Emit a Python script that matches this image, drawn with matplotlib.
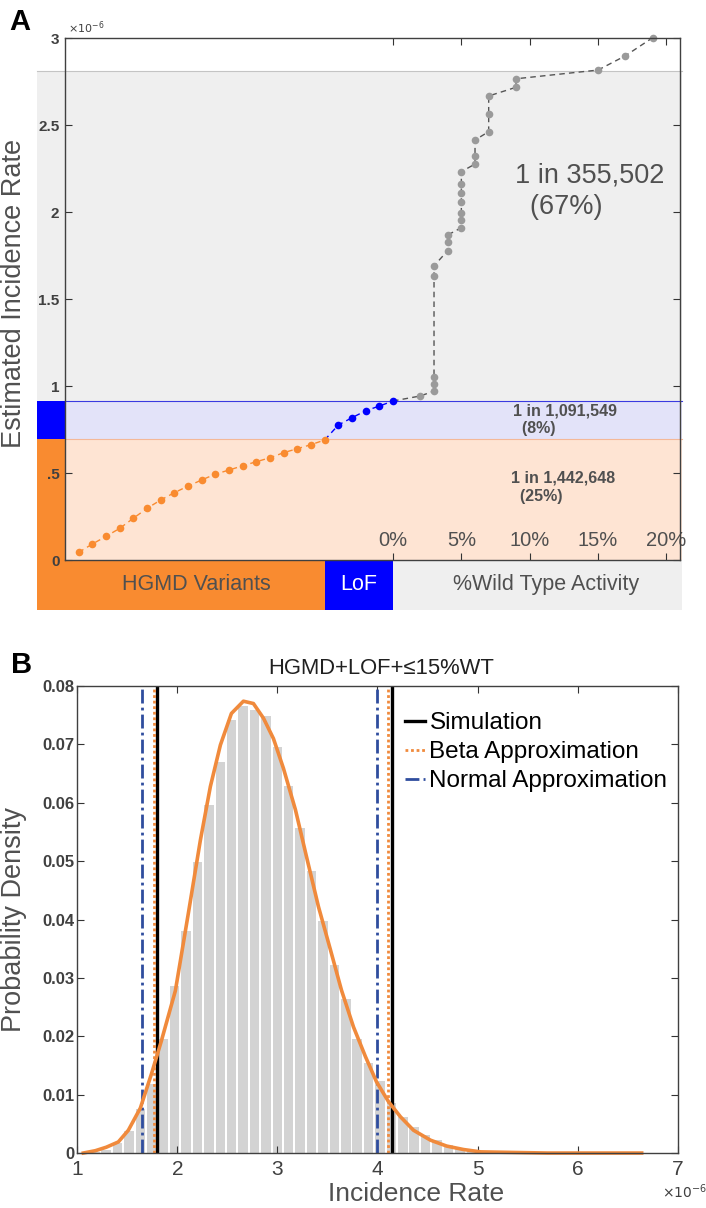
import numpy as np
import matplotlib.pyplot as plt
from matplotlib.patches import Rectangle
from matplotlib.lines import Line2D

plt.rcParams['font.family'] = ['Liberation Sans', 'DejaVu Sans']

# ---------------- Panel A data (x = % wild type activity, y = x1e-6) ----------------
hgmd_x = [-23, -22, -21, -20, -19, -18, -17, -16, -15, -14, -13, -12, -11, -10, -9, -8, -7, -6, -5]
hgmd_y = [0.044, 0.092, 0.136, 0.182, 0.240, 0.297, 0.345, 0.387, 0.425, 0.460,
          0.494, 0.517, 0.542, 0.565, 0.588, 0.617, 0.640, 0.663, 0.690]
lof_x = [-4, -3, -2, -1, 0]
lof_y = [0.776, 0.818, 0.858, 0.885, 0.914]
wt_x = [2, 3, 3, 3, 3, 3, 4, 4, 4, 5, 5, 5, 5, 5, 5, 5, 6, 6, 6, 7, 7, 7, 9, 9, 15, 17, 19]
wt_y = [0.943, 0.971, 1.011, 1.054, 1.634, 1.691, 1.778, 1.826, 1.868, 1.910, 1.952,
        1.996, 2.059, 2.111, 2.163, 2.232, 2.276, 2.322, 2.414, 2.462, 2.561, 2.667,
        2.717, 2.766, 2.816, 2.898, 3.002]
band_tops = [0.693, 0.916, 2.813]
band_text = ['1 in 1,442,648\n  (25%)', '1 in 1,091,549\n  (8%)', '1 in 355,502\n  (67%)']
pct_ticks = [0, 5, 10, 15, 20]
pct_labels = ['0%', '5%', '10%', '15%', '20%']
a_yticks = [0, 0.5, 1, 1.5, 2, 2.5, 3]
a_ylabels = ['0', '.5', '1', '1.5', '2', '2.5', '3']

# ---------------- Panel B data (x1e-6) ----------------
bin_centers = [1.175, 1.289, 1.403, 1.517, 1.631, 1.745, 1.859, 1.973, 2.087, 2.201,
               2.315, 2.429, 2.543, 2.657, 2.771, 2.885, 2.999, 3.113, 3.227, 3.341,
               3.455, 3.569, 3.683, 3.797, 3.911, 4.025, 4.139, 4.253, 4.367, 4.481,
               4.595, 4.709, 4.823, 4.937, 5.051, 5.165, 5.279, 5.393]
bin_heights = [0.0002, 0.0006, 0.0017, 0.0038, 0.0075, 0.0119, 0.0196, 0.0286, 0.0381, 0.0498,
               0.0596, 0.0670, 0.0742, 0.0765, 0.0759, 0.0749, 0.0696, 0.0629, 0.0556, 0.0483,
               0.0397, 0.0322, 0.0264, 0.0196, 0.0154, 0.0123, 0.0086, 0.0062, 0.0045, 0.0031,
               0.0023, 0.0014, 0.0008, 0.0005, 0.0003, 0.0002, 0.0001, 0.0001]
beta_x = [1.06, 1.18, 1.29, 1.41, 1.51, 1.63, 1.74, 1.84, 1.98, 2.11, 2.23, 2.33, 2.43,
          2.54, 2.66, 2.76, 2.86, 2.96, 3.06, 3.18, 3.29, 3.41, 3.53, 3.64, 3.76, 3.88,
          3.99, 4.11, 4.23, 4.36, 4.53, 4.69, 4.86, 5.03, 5.36, 5.70, 6.00, 6.64]
beta_y = [0.0, 0.0004, 0.0010, 0.0019, 0.0039, 0.0077, 0.0135, 0.0192, 0.0278, 0.0411,
          0.0536, 0.0628, 0.0699, 0.0753, 0.0774, 0.0770, 0.0745, 0.0710, 0.0659, 0.0588,
          0.0508, 0.0422, 0.0348, 0.0279, 0.0216, 0.0165, 0.0122, 0.0088, 0.0062, 0.0039,
          0.0022, 0.0012, 0.0006, 0.0002, 0.0001, 0.0, 0.0, 0.0]
sim_ci = [1.795, 4.142]
beta_ci = [1.768, 4.108]
normal_ci = [1.644, 3.993]
b_yticks = [0, 0.01, 0.02, 0.03, 0.04, 0.05, 0.06, 0.07, 0.08]
b_ylabels = ['0', '0.01', '0.02', '0.03', '0.04', '0.05', '0.06', '0.07', '0.08']
b_xticks = [1, 2, 3, 4, 5, 6, 7]

# colores
naranja = '#F98B30'
naranja_claro = '#FEE4D3'
azul = '#0000FF'
azul_claro = '#E3E3F9'
gris_claro = '#EFEFEF'
gris_txt = '#505050'

fig = plt.figure(figsize=(7.06, 12.08), dpi=100)

# ================= Panel A =================
axA = fig.add_axes([0.0921, 0.5364, 0.8711, 0.4321])
x0, x1 = -24, 21
xl, xr = -26.05, 21.15
strip_h = 0.287

# bandas
axA.add_patch(Rectangle((x0, 0), xr - x0, band_tops[0], color=naranja_claro, lw=0, clip_on=False, zorder=0))
axA.add_patch(Rectangle((x0, band_tops[0]), xr - x0, band_tops[1] - band_tops[0], color=azul_claro, lw=0, clip_on=False, zorder=0))
axA.add_patch(Rectangle((xl, band_tops[1]), xr - xl, band_tops[2] - band_tops[1], color=gris_claro, lw=0, clip_on=False, zorder=0))
# franja izquierda
axA.add_patch(Rectangle((xl, 0), x0 - xl, band_tops[0], color=naranja, lw=0, clip_on=False, zorder=0))
axA.add_patch(Rectangle((xl, band_tops[0]), x0 - xl, band_tops[1] - band_tops[0], color=azul, lw=0, clip_on=False, zorder=0))
# franja inferior
axA.add_patch(Rectangle((xl, -strip_h), hgmd_x[-1] - xl, strip_h, color=naranja, lw=0, clip_on=False, zorder=0))
axA.add_patch(Rectangle((hgmd_x[-1], -strip_h), lof_x[-1] - hgmd_x[-1], strip_h, color=azul, lw=0, clip_on=False, zorder=0))
axA.add_patch(Rectangle((lof_x[-1], -strip_h), xr - lof_x[-1], strip_h, color=gris_claro, lw=0, clip_on=False, zorder=0))

axA.plot([x0, xr], [band_tops[0]] * 2, color='#F4B898', lw=0.8, clip_on=False, zorder=1)
axA.plot([x0, xr], [band_tops[1]] * 2, color='#3A3AE0', lw=0.8, clip_on=False, zorder=1)
axA.plot([xl, xr], [band_tops[2]] * 2, color='#C4C4C4', lw=0.8, clip_on=False, zorder=1)

# puntos y lineas
axA.plot(hgmd_x, hgmd_y, '--', color=naranja, lw=1, dashes=(4, 3), zorder=2)
axA.plot([hgmd_x[-1]] + lof_x, [hgmd_y[-1]] + lof_y, '--', color=azul, lw=1, dashes=(4, 3), zorder=2)
axA.plot([lof_x[-1]] + wt_x, [lof_y[-1]] + wt_y, '--', color='#555555', lw=1, dashes=(4, 3), zorder=2, clip_on=False)
axA.plot(hgmd_x, hgmd_y, 'o', color=naranja, ms=5.5, mec='none', zorder=3)
axA.plot(lof_x, lof_y, 'o', color=azul, ms=5.5, mec='none', zorder=3)
axA.plot(wt_x, wt_y, 'o', color='#9A9A9A', ms=5.5, mec='none', zorder=3, clip_on=False)

axA.text(8.6, 0.417, band_text[0], fontsize=11.5, fontweight='bold', color=gris_txt, ha='left', va='center', linespacing=1.25)
axA.text(8.75, 0.807, band_text[1], fontsize=11.5, fontweight='bold', color=gris_txt, ha='left', va='center', linespacing=1.25)
axA.text(8.9, 2.12, band_text[2], fontsize=19.5, color=gris_txt, ha='left', va='center', linespacing=1.3)

axA.text(-14.4, -strip_h / 2, 'HGMD Variants', fontsize=15.5, color=gris_txt, ha='center', va='center')
axA.text(-2.5, -strip_h / 2, 'LoF', fontsize=15.5, color='white', ha='center', va='center')
axA.text(11.2, -strip_h / 2, '%Wild Type Activity', fontsize=15.5, color=gris_txt, ha='center', va='center')

axA.set_xlim(x0, x1)
axA.set_ylim(0, 3)
axA.set_xticks(pct_ticks)
axA.set_xticklabels(pct_labels)
axA.set_yticks(a_yticks)
axA.set_yticklabels(a_ylabels, fontweight='bold')
axA.tick_params(axis='x', direction='in', top=True, bottom=True, length=5, pad=-21,
                labelsize=14.5, labelcolor=gris_txt, color='#333333')
axA.tick_params(axis='y', direction='in', left=True, right=True, length=5, pad=4,
                labelsize=11, labelcolor='#404040', color='#333333')
axA.set_facecolor('none')
for s in axA.spines.values():
    s.set_color('#404040')
    s.set_linewidth(1)
    s.set_zorder(4)

fig.text(14 / 706, 1 - 293 / 1208, 'Estimated Incidence Rate', rotation=90, fontsize=19.5,
         color=gris_txt, ha='center', va='center')
fig.text(68 / 706, 1 - 28 / 1208, r'$\times10^{-6}$', fontsize=8, color='#404040', ha='left', va='center')
fig.text(9 / 706, 1 - 8 / 1208, 'A', fontsize=21, fontweight='bold', ha='left', va='top')

# ================= Panel B =================
axB = fig.add_axes([0.1095, 0.0455, 0.8504, 0.3866])
axB.bar(bin_centers, bin_heights, width=0.095, color='#D3D3D3', lw=0, zorder=1)
axB.axvline(sim_ci[0], color='black', lw=2.4, zorder=2)
axB.axvline(sim_ci[1], color='black', lw=2.4, zorder=2)
axB.axvline(beta_ci[0], color='#F08A3C', lw=2, ls=(0, (1, 1)), zorder=2)
axB.axvline(beta_ci[1], color='#F08A3C', lw=2, ls=(0, (1, 1)), zorder=2)
axB.axvline(normal_ci[0], color='#2F4D9E', lw=2, ls=(0, (5, 1.5, 1, 1.5)), zorder=2)
axB.axvline(normal_ci[1], color='#2F4D9E', lw=2, ls=(0, (5, 1.5, 1, 1.5)), zorder=2)
axB.plot(beta_x, beta_y, color='#F08A3C', lw=2.6, zorder=3, clip_on=False)

handles = [Line2D([], [], color='black', lw=2.4),
           Line2D([], [], color='#F08A3C', lw=2, ls=(0, (1, 1))),
           Line2D([], [], color='#2F4D9E', lw=2, ls=(0, (5, 1.5, 1, 1.5)))]
axB.legend(handles, ['Simulation', 'Beta Approximation', 'Normal Approximation'],
           loc='upper left', bbox_to_anchor=(0.546, 0.944), frameon=False, fontsize=17.5,
           handlelength=0.8, handletextpad=0.2, labelspacing=0.29, borderpad=0, borderaxespad=0)

axB.set_xlim(1, 7)
axB.set_ylim(0, 0.08)
axB.set_xticks(b_xticks)
axB.set_yticks(b_yticks)
axB.set_yticklabels(b_ylabels, fontweight='bold')
axB.tick_params(axis='x', direction='in', top=True, bottom=True, length=5, pad=5,
                labelsize=15, labelcolor='#404040', color='#333333')
axB.tick_params(axis='y', direction='in', left=True, right=True, length=5, pad=2,
                labelsize=12, labelcolor='#404040', color='#333333')
for s in axB.spines.values():
    s.set_color('#404040')
    s.set_linewidth(1)
    s.set_zorder(4)

fig.text(381 / 706, 1 - 668 / 1208, 'HGMD+LOF+≤15%WT', fontsize=15.8, color='#202020', ha='center', va='center')
fig.text(14 / 706, 1 - 920 / 1208, 'Probability Density', rotation=90, fontsize=19.5,
         color=gris_txt, ha='center', va='center')
fig.text(416 / 706, 1 - 1194 / 1208, 'Incidence Rate', fontsize=19, color=gris_txt, ha='center', va='center')
fig.text(662 / 706, 1 - 1192 / 1208, r'$\times10^{-6}$', fontsize=10, color='#404040', ha='left', va='center')
fig.text(11 / 706, 1 - 651 / 1208, 'B', fontsize=21, fontweight='bold', ha='left', va='top')

fig.savefig('out.png', dpi=100)
